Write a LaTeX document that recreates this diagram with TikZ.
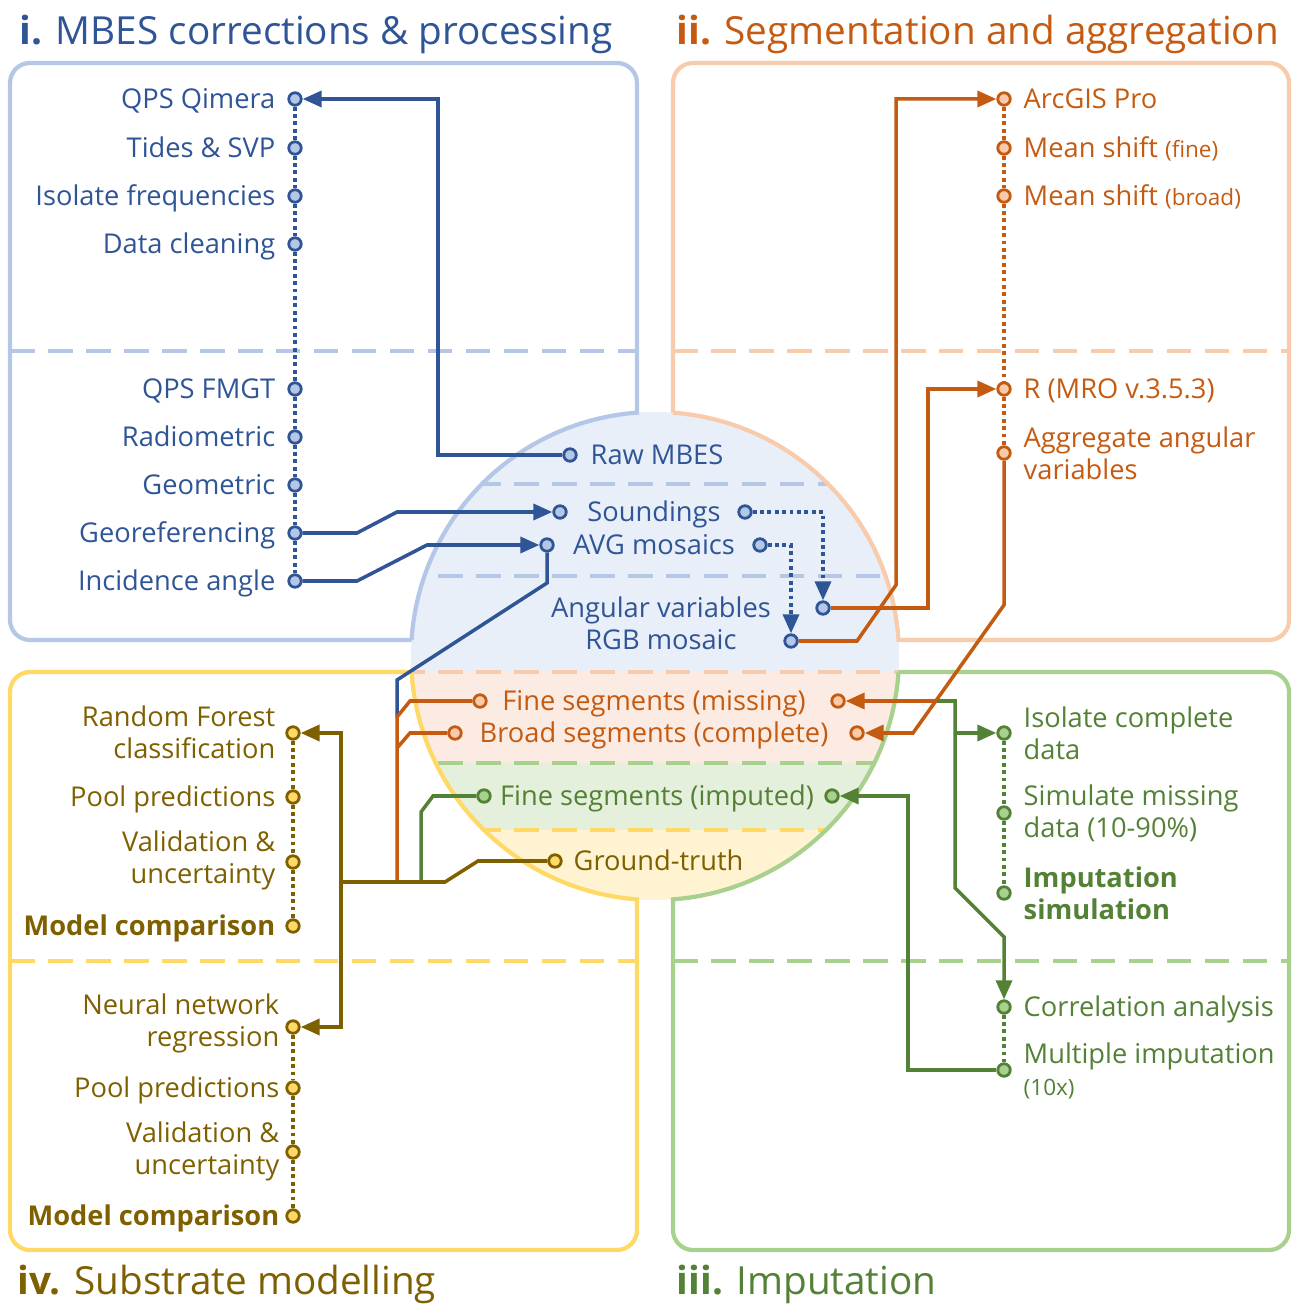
\documentclass[tikz,border=0pt]{standalone}
\usepackage{fontspec}
\setmainfont{Open Sans}
\usetikzlibrary{arrows.meta,positioning,calc}

\definecolor{bdark}{HTML}{2F5597}
\definecolor{blight}{HTML}{B4C7E7}
\definecolor{bfill}{HTML}{E9EFF8}
\definecolor{odark}{HTML}{C55A11}
\definecolor{olight}{HTML}{F8CBAD}
\definecolor{ofill}{HTML}{FCEBE2}
\definecolor{gdark}{HTML}{538135}
\definecolor{glight}{HTML}{A9D18E}
\definecolor{gfill}{HTML}{E4EFDC}
\definecolor{ydark}{HTML}{7F6000}
\definecolor{ylight}{HTML}{FFD966}
\definecolor{yfill}{HTML}{FFF3D2}

\newcommand{\smalltxt}[1]{{\fontsize{6.4}{7.5}\selectfont #1}}

\tikzset{
	pt/.style = {circle, inner sep=0pt, minimum size=0.125cm, line width=0.8pt},
	bpt/.style = {pt, draw=bdark, fill=blight},
	opt/.style = {pt, draw=odark, fill=olight},
	gpt/.style = {pt, draw=gdark, fill=glight},
	ypt/.style = {pt, draw=ydark, fill=ylight},
	lbl/.style = {inner sep=0pt, font=\fontsize{7.75}{9.1}\selectfont},
	title/.style = {inner sep=0pt, font=\fontsize{11}{12}\selectfont},
	link/.style = {line width=1pt},
	arrowed/.style = {-{Triangle[length=0.19cm,width=0.16cm]}},
	dotline/.style = {line width=1pt, dash pattern=on 1.1pt off 1pt},
	sep/.style = {line width=1.1pt, dash pattern=on 7pt off 3.8pt},
	quad/.style = {line width=1.2pt},
}

\begin{document}
\begin{tikzpicture}[x=0.01cm, y=-0.01cm]
	\useasboundingbox (0,0) rectangle (1291,1304);
	\def\bx{295}
	\def\ox{1004}
	\def\yx{293}
	\def\R{244}
	
	% centre disc, coloured bands
	\begin{scope}
		\clip (655,656) circle[radius=\R];
		\fill[bfill] (400,400) rectangle (910,672);
		\fill[ofill] (400,672) rectangle (910,763);
		\fill[gfill] (400,763) rectangle (910,830);
		\fill[yfill] (400,830) rectangle (910,910);
		\draw[sep, blight] (400,484) -- (910,484);
		\draw[sep, blight] (400,576) -- (910,576);
		\draw[sep, olight] (400,672) -- (910,672);
		\draw[sep, glight] (400,763) -- (910,763);
		\draw[sep, ylight] (400,830) -- (910,830);
	\end{scope}
	
	% quadrant frames
	\draw[quad, blight] (411.53,640) [rounded corners=0.2cm] -- (10,640) -- (10,63) -- (637,63) [sharp corners] -- (637,412.66) arc[start angle=-94.23, end angle=-176.24, radius=\R];
	\draw[quad, olight] (673,412.66) [rounded corners=0.2cm] -- (673,63) -- (1289,63) -- (1289,640) [sharp corners] -- (898.47,640) arc[start angle=-3.76, end angle=-85.77, radius=\R];
	\draw[quad, glight] (898.47,672) [rounded corners=0.2cm] -- (1289,672) -- (1289,1250) -- (673,1250) [sharp corners] -- (673,899.34) arc[start angle=85.77, end angle=3.76, radius=\R];
	\draw[quad, ylight] (411.53,672) [rounded corners=0.2cm] -- (10,672) -- (10,1250) -- (637,1250) [sharp corners] -- (637,899.34) arc[start angle=94.23, end angle=176.24, radius=\R];
	
	\draw[sep, blight] (10,351) -- (637,351);
	\draw[sep, olight] (673,351) -- (1289,351);
	\draw[sep, ylight] (10,961) -- (637,961);
	\draw[sep, glight] (673,961) -- (1289,961);
	
	% titles
	\node[title, text=bdark, anchor=base west] (ttlA) at (19,45) {\textbf{i.} MBES corrections \& processing};
	\node[title, text=odark, anchor=base west] (ttlB) at (676,45) {\textbf{ii.} Segmentation and aggregation};
	\node[title, text=gdark, anchor=base west] (ttlC) at (676,1294) {\textbf{iii.} Imputation};
	\node[title, text=ydark, anchor=base west] (ttlD) at (17,1294) {\textbf{iv.} Substrate modelling};
	
	% i. processing steps
	\node[bpt] (qimera) at (\bx,99) {};
	\node[bpt] (tides) at (\bx,148) {};
	\node[bpt] (isofreq) at (\bx,196) {};
	\node[bpt] (clean) at (\bx,244) {};
	\node[bpt] (fmgt) at (\bx,389) {};
	\node[bpt] (radio) at (\bx,437) {};
	\node[bpt] (geom) at (\bx,485) {};
	\node[bpt] (georef) at (\bx,533) {};
	\node[bpt] (incid) at (\bx,581) {};
	\node[lbl, text=bdark, anchor=mid east] (qimeraT) at (\bx-19,99) {QPS Qimera};
	\node[lbl, text=bdark, anchor=mid east] (tidesT) at (\bx-19,148) {Tides \& SVP};
	\node[lbl, text=bdark, anchor=mid east] (isofreqT) at (\bx-19,196) {Isolate frequencies};
	\node[lbl, text=bdark, anchor=mid east] (cleanT) at (\bx-19,244) {Data cleaning};
	\node[lbl, text=bdark, anchor=mid east] (fmgtT) at (\bx-19,389) {QPS FMGT};
	\node[lbl, text=bdark, anchor=mid east] (radioT) at (\bx-19,437) {Radiometric};
	\node[lbl, text=bdark, anchor=mid east] (geomT) at (\bx-19,485) {Geometric};
	\node[lbl, text=bdark, anchor=mid east] (georefT) at (\bx-19,533) {Georeferencing};
	\node[lbl, text=bdark, anchor=mid east] (incidT) at (\bx-19,581) {Incidence angle};
	
	% ii. segmentation steps
	\node[opt] (arcgis) at (\ox,99) {};
	\node[opt] (msfine) at (\ox,148) {};
	\node[opt] (msbroad) at (\ox,196) {};
	\node[opt] (rmro) at (\ox,389) {};
	\node[opt] (aggr) at (\ox,453) {};
	\node[lbl, text=odark, anchor=mid west] (arcgisT) at (\ox+19,99) {ArcGIS Pro};
	\node[lbl, text=odark, anchor=mid west] (msfineT) at (\ox+19,148) {Mean shift \smalltxt{(fine)}};
	\node[lbl, text=odark, anchor=mid west] (msbroadT) at (\ox+19,196) {Mean shift \smalltxt{(broad)}};
	\node[lbl, text=odark, anchor=mid west] (rmroT) at (\ox+19,389) {R (MRO v.3.5.3)};
	\node[lbl, text=odark, anchor=west, align=left] (aggrT) at (\ox+19,453) {Aggregate angular\\variables};
	
	% iii. imputation steps
	\node[gpt] (isol) at (\ox,733) {};
	\node[gpt] (simul) at (\ox,813) {};
	\node[gpt] (impsim) at (\ox,893) {};
	\node[gpt] (corr) at (\ox,1007) {};
	\node[gpt] (multi) at (\ox,1070) {};
	\node[lbl, text=gdark, anchor=west, align=left] (isolT) at (\ox+19,733) {Isolate complete\\data};
	\node[lbl, text=gdark, anchor=west, align=left] (simulT) at (\ox+19,813) {Simulate missing\\data (10-90\%)};
	\node[lbl, text=gdark, anchor=west, align=left, font=\fontsize{7.75}{9.1}\selectfont\bfseries] (impsimT) at (\ox+19,893) {Imputation\\simulation};
	\node[lbl, text=gdark, anchor=mid west] (corrT) at (\ox+19,1007) {Correlation analysis};
	\node[lbl, text=gdark, anchor=west, align=left] (multiT) at (\ox+19,1071) {Multiple imputation\\\smalltxt{(10x)}};
	
	% iv. modelling steps
	\node[ypt] (rf) at (\yx,733) {};
	\node[ypt] (poolA) at (\yx,797) {};
	\node[ypt] (validA) at (\yx,862) {};
	\node[ypt] (mcompA) at (\yx,926) {};
	\node[ypt] (nn) at (\yx,1027) {};
	\node[ypt] (poolB) at (\yx,1088) {};
	\node[ypt] (validB) at (\yx,1152) {};
	\node[ypt] (mcompB) at (\yx,1216) {};
	\node[lbl, text=ydark, anchor=east, align=right] (rfT) at (\yx-17,732) {Random Forest\\classification};
	\node[lbl, text=ydark, anchor=mid east] (poolAT) at (\yx-17,797) {Pool predictions};
	\node[lbl, text=ydark, anchor=east, align=right] (validAT) at (\yx-17,860) {Validation \&\\uncertainty};
	\node[lbl, text=ydark, anchor=mid east, font=\fontsize{7.75}{9.1}\selectfont\bfseries] (mcompAT) at (\yx-17,926) {Model comparison};
	\node[lbl, text=ydark, anchor=east, align=right] (nnT) at (\yx-13,1023) {Neural network\\regression};
	\node[lbl, text=ydark, anchor=mid east] (poolBT) at (\yx-13,1088) {Pool predictions};
	\node[lbl, text=ydark, anchor=east, align=right] (validBT) at (\yx-13,1151) {Validation \&\\uncertainty};
	\node[lbl, text=ydark, anchor=mid east, font=\fontsize{7.75}{9.1}\selectfont\bfseries] (mcompBT) at (\yx-13,1216) {Model comparison};
	
	% centre disc data
	\node[bpt] (raw) at (570,455) {};
	\node[lbl, text=bdark, anchor=mid west] (rawT) at (590,455) {Raw MBES};
	\node[bpt] (soundL) at (560,512) {};
	\node[lbl, text=bdark, anchor=mid] (soundT) at (654,512) {Soundings};
	\node[bpt] (soundR) at (745,512) {};
	\node[bpt] (avgL) at (547,545) {};
	\node[lbl, text=bdark, anchor=mid] (avgT) at (654,545) {AVG mosaics};
	\node[bpt] (avgR) at (760,545) {};
	\node[lbl, text=bdark, anchor=mid] (angT) at (661,608) {Angular variables};
	\node[lbl, text=bdark, anchor=mid] (rgbT) at (661,640) {RGB mosaic};
	\node[bpt] (ang) at (823,608) {};
	\node[bpt] (rgb) at (791,641) {};
	\node[opt] (missL) at (480,701) {};
	\node[lbl, text=odark, anchor=mid] (missT) at (654,701) {Fine segments (missing)};
	\node[opt] (missR) at (838,701) {};
	\node[opt] (broadL) at (455,733) {};
	\node[lbl, text=odark, anchor=mid] (broadT) at (654,733) {Broad segments (complete)};
	\node[opt] (broadR) at (857,733) {};
	\node[gpt] (impL) at (484,796) {};
	\node[lbl, text=gdark, anchor=mid] (impT) at (657,796) {Fine segments (imputed)};
	\node[gpt] (impR) at (832,796) {};
	\node[ypt] (ground) at (555,861) {};
	\node[lbl, text=ydark, anchor=mid west] (groundT) at (573,861) {Ground-truth};
	
	% dotted step chains
	\foreach \a/\b in {qimera/tides, tides/isofreq, isofreq/clean, clean/fmgt, fmgt/radio, radio/geom, geom/georef, georef/incid}
		\draw[dotline, bdark] (\a) -- (\b);
	\foreach \a/\b in {arcgis/msfine, msfine/msbroad, msbroad/rmro, rmro/aggr}
		\draw[dotline, odark] (\a) -- (\b);
	\foreach \a/\b in {isol/simul, simul/impsim, corr/multi}
		\draw[dotline, gdark] (\a) -- (\b);
	\foreach \a/\b in {rf/poolA, poolA/validA, validA/mcompA, nn/poolB, poolB/validB, validB/mcompB}
		\draw[dotline, ydark] (\a) -- (\b);
	
	% blue links
	\draw[link, bdark, arrowed] (raw) -- (438,455) |- (qimera);
	\draw[link, bdark, arrowed] (georef) -- (357,533) -- (397,512) -- (soundL);
	\draw[link, bdark, arrowed] (incid) -- (357,581) -- (427,545) -- (avgL);
	\draw[link, bdark] (avgL) -- (547,583) -- (397,680) -- (397,717);
	\draw[dotline, bdark, arrowed] (soundR) -- (823,512) -- (ang);
	\draw[dotline, bdark, arrowed] (avgR) -- (791,545) -- (rgb);
	
	% orange links
	\coordinate (xsw) at (937,701);
	\draw[link, odark, arrowed] (ang) -- (928,608) |- (rmro);
	\draw[link, odark, arrowed] (rgb) -- (857,641) -- (896,585) |- (arcgis);
	\draw[link, odark, arrowed] (aggr) -- (\ox,605) -- (913,733) -- (broadR);
	\draw[link, odark, arrowed] (xsw) -- (missR);
	\draw[link, odark] (missL) -- (410,701) -- (397,717) -- (397,882);
	\draw[link, odark] (broadL) -- (410,733) -- (397,748);
	
	% green links
	\draw[link, gdark, arrowed] (xsw) -- (955,701) -- (955,888) -- (\ox,937) -- (corr);
	\draw[link, gdark, arrowed] (955,733) -- (isol);
	\draw[link, gdark, arrowed] (multi) -- (908,1070) |- (impR);
	\draw[link, gdark] (impL) -- (433,796) -- (421,812) -- (421,882);
	
	% brown links
	\draw[link, ydark, arrowed] (ground) -- (478,861) -- (445,882) -- (341,882) |- (rf);
	\draw[link, ydark, arrowed] (341,882) |- (nn);
\end{tikzpicture}
\end{document}
